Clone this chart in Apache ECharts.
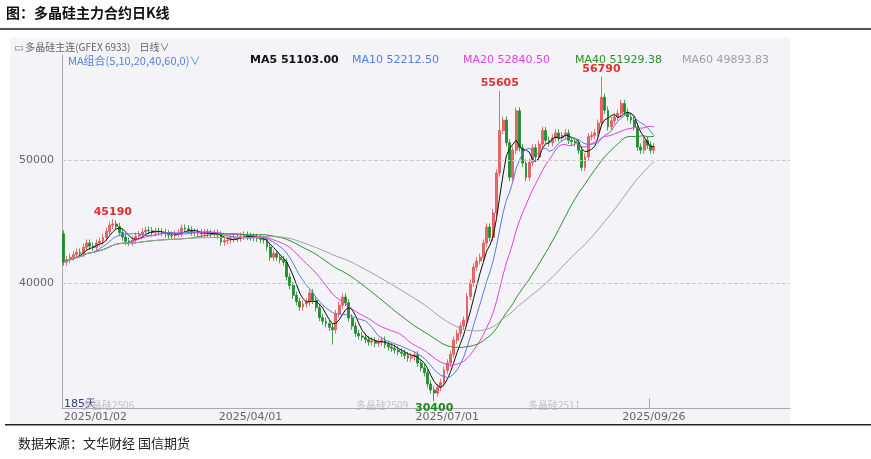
<!DOCTYPE html>
<html><head><meta charset="utf-8">
<script src="https://cdn.jsdelivr.net/npm/echarts@6/dist/echarts.min.js"></script>
<style>html,body{margin:0;padding:0;background:#fff}#main{width:871px;height:459px}</style>
</head><body><div id="main"></div>
<script>
// closes per trading day, 2025/01/02 .. 2025/09/26
var closes = [41700,41900,42100,42300,42500,42400,42900,43250,43000,42900,
  43250,43400,43700,44200,44700,44800,44600,44100,43740,43400,
  43330,43500,43800,43950,44150,44300,44250,44100,44200,44150,
  44100,44000,43900,43850,44000,44060,44470,44400,44300,44150,
  44100,44060,44000,44100,44050,43950,44060,43900,43330,43450,
  43500,43600,43700,43650,43800,43900,43800,43750,43700,43650,
  43550,43500,42930,42100,42400,42100,41900,41700,40500,39800,
  39000,38500,38050,38300,38450,39200,38600,38000,37200,36900,
  36700,36400,36200,37500,38200,38860,38400,37150,36500,35900,
  35700,35600,35400,35200,35300,35100,35200,35350,35000,34800,
  34700,34550,34400,34300,34100,33900,34000,34150,33500,33100,
  32700,31800,31300,31050,31500,31900,32900,33500,34200,35350,
  35900,36500,37000,38900,40000,41300,41800,42100,43250,44550,
  43700,45700,48950,52400,53250,51400,48600,50800,54000,51000,
  49750,48600,49800,51000,50250,51300,52400,51600,51400,51800,
  52200,51800,52000,52200,51600,51500,51400,50800,49400,50250,
  51900,52000,52200,53000,55100,54050,52700,53200,53500,53800,
  54600,53900,53500,53250,52700,51050,50800,51600,51200,50800,51100];
var firstOpen = 44000;
// extreme highs / lows marked on the chart
var highMarks = {15: 45190, 133: 55605, 164: 56790};
var lowMarks = {113: 30400, 82: 35000};
var holidays = ['2025-01-28','2025-01-29','2025-01-30','2025-01-31','2025-02-03','2025-02-04',
  '2025-04-04','2025-05-01','2025-05-02','2025-05-05','2025-06-02'];
var maPeriods = [5, 10, 20, 40, 60];
var maColors = ['#111111', '#4f7fe0', '#e43ee4', '#2f8f2f', '#a0a0a0'];
var maLegend = ['MA5 51103.00', 'MA10 52212.50', 'MA20 52840.50', 'MA40 51929.38', 'MA60 49893.83'];
var totalSlots = 222;

function pad(n){return n < 10 ? '0' + n : '' + n;}
var dates = [];
var d = new Date(2025, 0, 2);
while (dates.length < closes.length) {
  var key = d.getFullYear() + '-' + pad(d.getMonth() + 1) + '-' + pad(d.getDate());
  var wd = d.getDay();
  if (wd !== 0 && wd !== 6 && holidays.indexOf(key) < 0)
    dates.push(d.getFullYear() + '/' + pad(d.getMonth() + 1) + '/' + pad(d.getDate()));
  d.setDate(d.getDate() + 1);
}
var cats = dates.slice();
while (cats.length < totalSlots) cats.push('');
var showDates = ['2025/01/02', '2025/04/01', '2025/07/01', '2025/09/26'];

var candles = closes.map(function (c, i) {
  var o = i === 0 ? firstOpen : closes[i - 1];
  var hi = highMarks[i] || Math.max(o, c) + 300;
  var lo = lowMarks[i] || Math.min(o, c) - 300;
  return [o, c, lo, hi];
});

function ma(n) {
  return closes.map(function (c, i) {
    var s = Math.max(0, i - n + 1), sum = 0;
    for (var k = s; k <= i; k++) sum += closes[k];
    return +(sum / (i - s + 1)).toFixed(2);
  });
}

var markData = [];
Object.keys(highMarks).forEach(function (k) {
  markData.push({coord: [+k, highMarks[k]], value: highMarks[k],
    label: {position: 'top', color: '#e03030'}});
});
markData.push({coord: [113, lowMarks[113]], value: lowMarks[113],
  label: {position: 'bottom', color: '#1a8a1a'}});

var chart = echarts.init(document.getElementById('main'));
var series = [{
  type: 'candlestick', data: candles, barWidth: 2.4,
  itemStyle: {color: '#e66a6a', color0: '#1e8c2a', borderColor: '#e05050', borderColor0: '#1e8c2a', borderWidth: 0.8},
  markPoint: {symbol: 'circle', symbolSize: 0, data: markData,
    label: {show: true, fontSize: 11, fontWeight: 'bold', fontFamily: 'DejaVu Sans', formatter: '{c}', distance: 2}},
  markLine: {silent: true, symbol: 'none', label: {show: false},
    lineStyle: {color: '#cccccc', type: 'dashed', width: 1},
    data: [{yAxis: 40000}, {yAxis: 50000}]}
}];
maPeriods.forEach(function (n, k) {
  series.push({type: 'line', data: ma(n), showSymbol: false, smooth: false,
    lineStyle: {color: maColors[k], width: 1}, z: 3});
});

var legendText = [{type: 'text', left: 68, top: 55, style: {text: 'MA组合(5,10,20,40,60,0)∨', fill: '#4f7fe0', font: '11px "Noto Sans CJK SC"'}}];
var lx = [250, 352, 463, 575, 682];
maLegend.forEach(function (t, k) {
  legendText.push({type: 'text', left: lx[k], top: 55,
    style: {text: t, fill: maColors[k], font: (k === 0 ? 'bold ' : '') + '11px "DejaVu Sans"'}});
});

chart.setOption({
  animation: false,
  backgroundColor: '#ffffff',
  grid: {left: 62, top: 55, width: 728, height: 353},
  xAxis: {type: 'category', data: cats, boundaryGap: true,
    axisLine: {lineStyle: {color: '#aaaaaa'}}, axisTick: {show: false},
    axisLabel: {color: '#666', fontSize: 11, fontFamily: 'DejaVu Sans', margin: 4, alignMinLabel: 'left',
      interval: function (i, v) { return showDates.indexOf(v) >= 0; }},
    splitLine: {show: false}},
  yAxis: {type: 'value', min: 29840, max: 58540,
    axisLine: {show: true, lineStyle: {color: '#aaaaaa'}}, axisTick: {show: false},
    axisLabel: {customValues: [40000, 50000], formatter: function (v) { return String(v); },
      color: '#666', fontSize: 11, fontFamily: 'DejaVu Sans', margin: 8},
    splitLine: {show: false}},
  series: series,
  graphic: [
    {type: 'rect', shape: {x: 10, y: 38, width: 780, height: 386}, style: {fill: '#f4f4f8'}, z: -10, silent: true},
    {type: 'text', left: 6, top: 6, style: {text: '图：多晶硅主力合约日K线', fill: '#111', font: 'bold 14px "Noto Sans CJK SC"'}},
    {type: 'rect', shape: {x: 0, y: 28, width: 871, height: 2}, style: {fill: '#555'}},
    {type: 'rect', shape: {x: 5, y: 424, width: 866, height: 1.5}, style: {fill: '#222'}},
    {type: 'text', left: 18, top: 437, style: {text: '数据来源：文华财经 国信期货', fill: '#222', font: '13px "Noto Sans CJK SC"'}},
    {type: 'text', left: 14, top: 42, style: {text: '▭ 多晶硅主连(GFEX 6933)    日线∨', fill: '#666', font: '10px "Noto Sans CJK SC"'}},
    {type: 'text', left: 64, top: 399, style: {text: '185天', fill: '#333a8a', font: '11px "DejaVu Sans"'}},
    {type: 'text', left: 82, top: 400, style: {text: '多晶硅2506', fill: '#c0c0c0', font: '10px "Noto Sans CJK SC"'}},
    {type: 'text', left: 356, top: 400, style: {text: '多晶硅2509', fill: '#c0c0c0', font: '10px "Noto Sans CJK SC"'}},
    {type: 'text', left: 528, top: 400, style: {text: '多晶硅2511', fill: '#c0c0c0', font: '10px "Noto Sans CJK SC"'}},
    {type: 'rect', shape: {x: 649, y: 398, width: 1, height: 10}, style: {fill: '#aaa'}}
  ].concat(legendText)
});
</script></body></html>
